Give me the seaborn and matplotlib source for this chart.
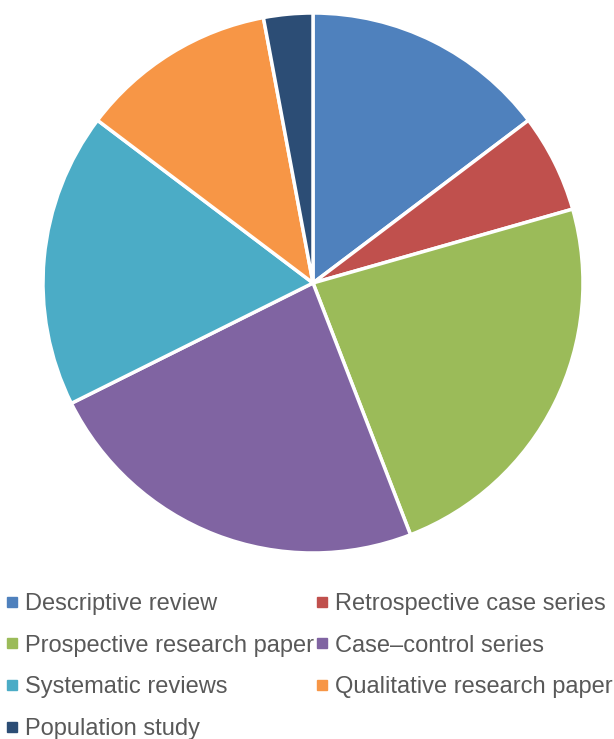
import matplotlib.pyplot as plt
import seaborn as sns
from matplotlib.lines import Line2D

# Study types and number of papers
categories = ['Descriptive review', 'Retrospective case series', 'Prospective research paper',
              'Case\u2013control series', 'Systematic reviews', 'Qualitative research paper',
              'Population study']
counts = [5, 2, 8, 8, 6, 4, 1]
colors = ['#4F81BD', '#C0504D', '#9BBB59', '#8064A2', '#4BACC6', '#F79646', '#2C4D75']

sns.set_theme(style='white')
plt.rcParams['font.family'] = ['Liberation Sans', 'DejaVu Sans']
palette = sns.color_palette(colors)

fig = plt.figure(figsize=(6.14, 7.39), dpi=100)
ax = fig.add_axes([43 / 614, 1 - 553 / 739, 540 / 614, 540 / 739])

ax.pie(counts, colors=palette, startangle=90, counterclock=False, radius=1,
       wedgeprops=dict(edgecolor='white', linewidth=2.5, clip_on=False))
ax.set_xlim(-1, 1)
ax.set_ylim(-1, 1)
ax.set_aspect('equal')
ax.axis('off')

# Legend: square markers, two columns, filled row by row
handles = [Line2D([0], [0], marker='s', linestyle='', markersize=7,
                  markerfacecolor=c, markeredgecolor=c) for c in palette]
order = [0, 2, 4, 6, 1, 3, 5]
leg = fig.legend([handles[i] for i in order], [categories[i] for i in order],
                 ncol=2, loc='upper left',
                 bbox_to_anchor=(6 / 614, 1 - 593 / 739), frameon=False,
                 fontsize=17, labelcolor='#595959', handlelength=0.5,
                 handletextpad=0.3, columnspacing=0.1, labelspacing=0.83,
                 borderaxespad=0, borderpad=0)

fig.savefig('out.png', dpi=100)
